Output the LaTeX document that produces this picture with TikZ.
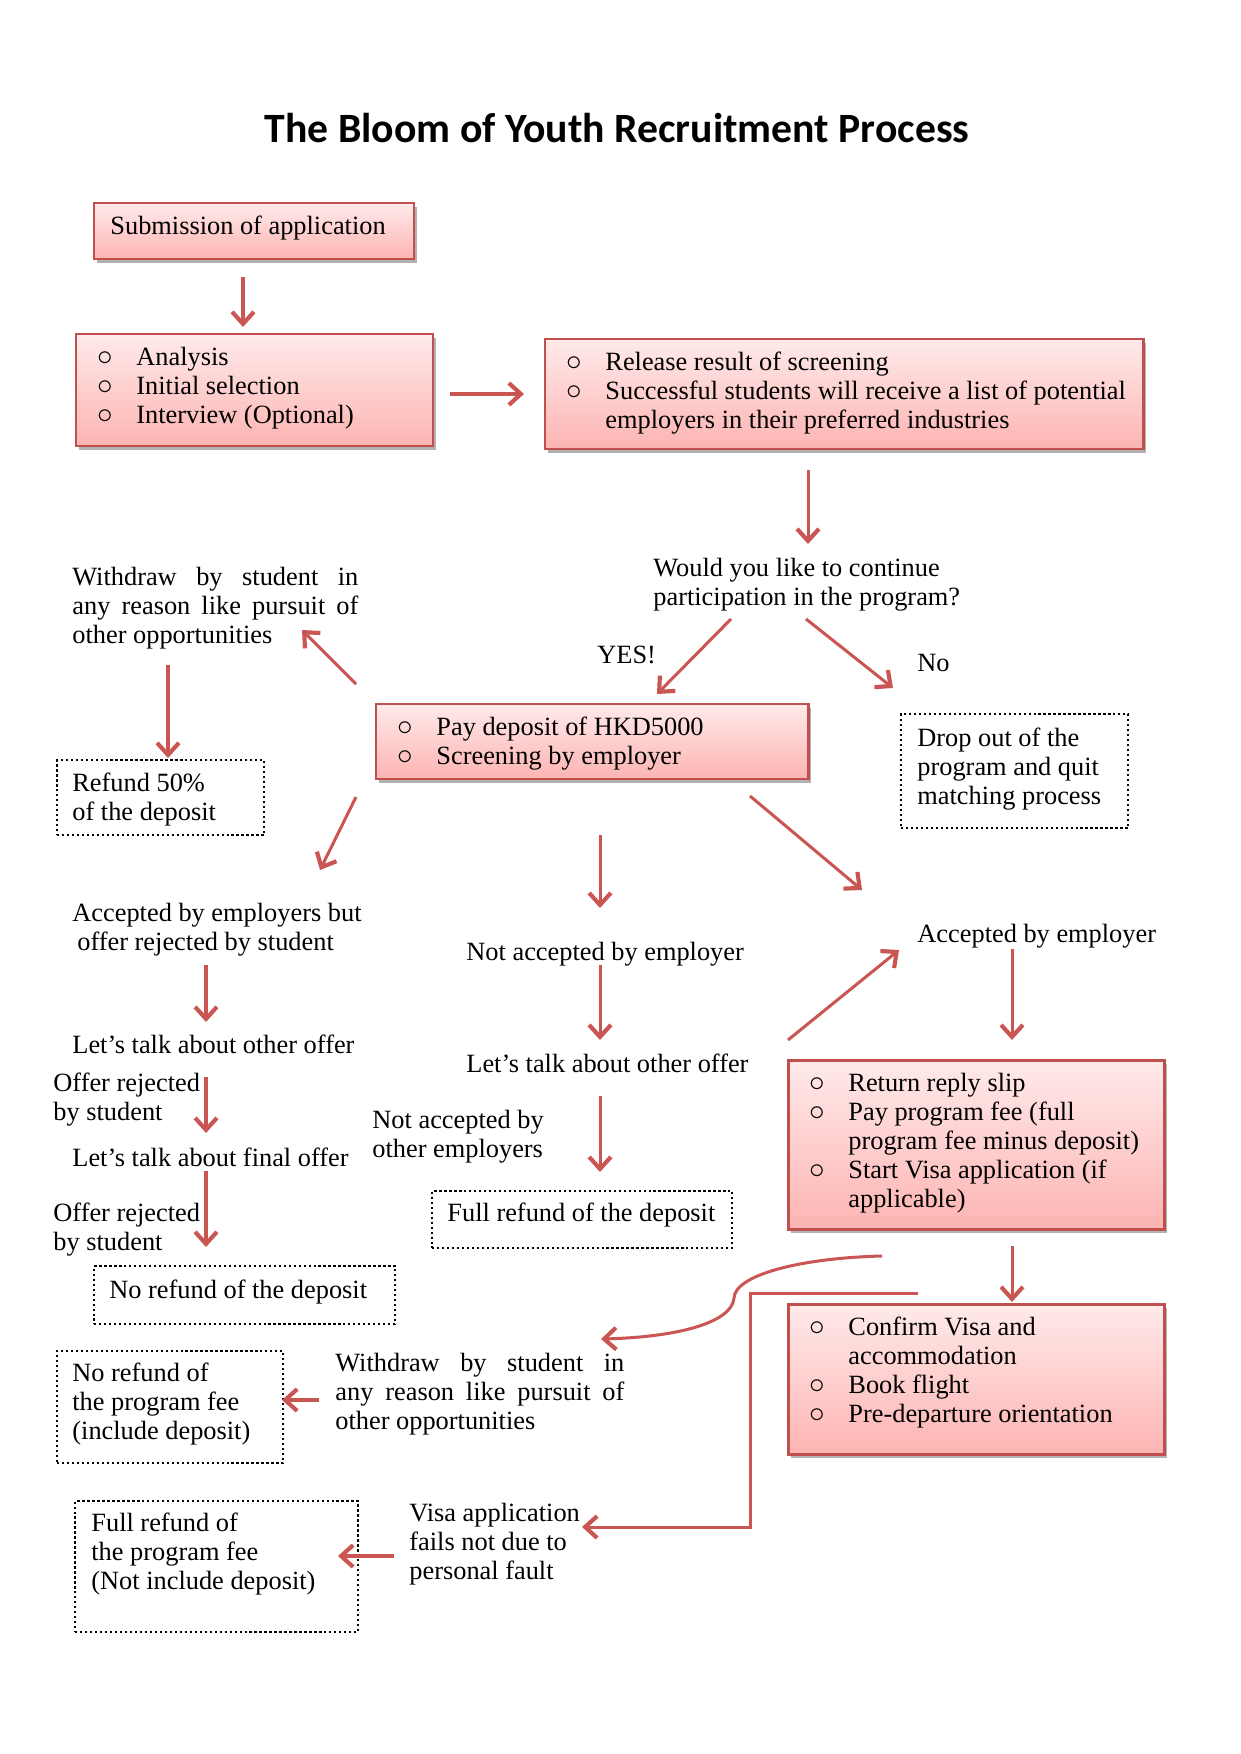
\documentclass[tikz,border=0pt]{standalone}
\usepackage{fontspec}
\usepackage{graphicx}
\setmainfont{Liberation Serif}
\newfontfamily\titlefont{Carlito}
\usetikzlibrary{arrows.meta,shadows}
\newlength\px \setlength\px{0.4818pt}
\definecolor{bord}{RGB}{192,80,77}
\definecolor{arcol}{RGB}{202,86,84}
\definecolor{ptop}{RGB}{255,234,234}
\definecolor{pbot}{RGB}{252,180,178}
\newcommand{\mainsz}{\fontsize{12.7pt}{14pt}\selectfont}
\newcommand{\tl}[1]{\begin{tabular}[t]{@{}l@{}}#1\end{tabular}}
\newcommand{\bl}[1]{\begin{tabular}[t]{@{}l@{}l@{}}#1\end{tabular}}
\newcommand{\bu}{\makebox[38\px][l]{\hspace{-1\px}\scalebox{1.25}{$\circ$}}}
\begin{document}
\mainsz
\begin{tikzpicture}[x=1\px,y=-1\px,
  pinkbox/.style={draw=bord, line width=1.2pt, top color=ptop, bottom color=pbot,
    anchor=north west, inner sep=0pt,
    drop shadow={shadow xshift=1.2pt, shadow yshift=-1.6pt, opacity=0.3, fill=black}},
  dotbox/.style={draw=black, line width=1.1pt, dash pattern=on 1.1pt off 1.3pt,
    anchor=north west, inner sep=0pt},
  txt/.style={anchor=base west, inner sep=0pt},
  arr/.style={draw=arcol, line width=1.45pt, line join=miter,
    -{Straight Barb[length=5.8pt,width=10.5pt,line width=2pt]}},
  thickarr/.style={arr, line width=1.75pt}]
\useasboundingbox (0,0) rectangle (1240,1754);
\fill[white] (0,0) rectangle (1240,1754);

% title
\node[anchor=base, inner sep=0pt, font=\titlefont\bfseries\fontsize{20.1pt}{24pt}\selectfont]
  (title) at (617,143) {The Bloom of Youth Recruitment Process};

% boxes
\node[pinkbox, minimum width=320\px, minimum height=56\px] (sub) at (93,202) {};
\node[pinkbox, minimum width=357\px, minimum height=112\px] (ana) at (75,333) {};
\node[pinkbox, minimum width=598\px, minimum height=110\px] (rel) at (544,338) {};
\node[pinkbox, minimum width=432\px, minimum height=75\px] (pay) at (375,703) {};
\node[pinkbox, minimum width=376\px, minimum height=169\px] (ret) at (787,1059) {};
\node[pinkbox, minimum width=376\px, minimum height=150\px] (conf) at (787,1303) {};
\node[dotbox, minimum width=227\px, minimum height=114\px] (drop) at (900,713) {};
\node[dotbox, minimum width=207\px, minimum height=75\px] (refund) at (56,759) {};
\node[dotbox, minimum width=301\px, minimum height=58\px] (norefdep) at (93,1265) {};
\node[dotbox, minimum width=300\px, minimum height=57\px] (fullrefdep) at (431,1190) {};
\node[dotbox, minimum width=226\px, minimum height=112\px] (noreffee) at (56,1350) {};
\node[dotbox, minimum width=283\px, minimum height=131\px] (fullfee) at (74,1500) {};

% texts in boxes
\node[txt] (subT) at (110,235) {Submission of application};
\node[txt] (anaT) at (98,365) {\bl{\bu&Analysis\\ \bu&Initial selection\\ \bu&Interview (Optional)}};
\node[txt] (relT) at (567,370) {\bl{\bu&Release result of screening\\ \bu&Successful students will receive a list of potential\\ &employers in their preferred industries}};
\node[txt] (payT) at (398,735) {\bl{\bu&Pay deposit of HKD5000\\ \bu&Screening by employer}};
\node[txt] (retT) at (810,1091) {\bl{\bu&Return reply slip\\ \bu&Pay program fee (full\\ &program fee minus deposit)\\ \bu&Start Visa application (if\\ &applicable)}};
\node[txt] (confT) at (810,1335) {\bl{\bu&Confirm Visa and\\ &accommodation\\ \bu&Book flight\\ \bu&Pre-departure orientation}};
\node[txt] (dropT) at (917,746) {\tl{Drop out of the\\ program and quit\\ matching process}};
\node[txt] (refundT) at (72,791) {\tl{Refund 50\%\\ of the deposit}};
\node[txt] (norefdepT) at (109,1298) {No refund of the deposit};
\node[txt] (fullrefdepT) at (447,1221) {Full refund of the deposit};
\node[txt] (noreffeeT) at (72,1381) {\tl{No refund of\\ the program fee\\ (include deposit)}};
\node[txt] (fullfeeT) at (91,1531) {\tl{Full refund of\\ the program fee\\ (Not include deposit)}};

% free texts
\node[txt] (quest) at (653,576) {\tl{Would you like to continue\\ participation in the program?}};
\node[txt] (yes) at (597,663) {YES!};
\node[txt] (no) at (917,671) {No};
\node[txt] (wd1) at (72,585) {\tl{\makebox[286\px][s]{Withdraw by student in}\\ \makebox[286\px][s]{any reason like pursuit of}\\ other opportunities}};
\node[txt] (accL) at (72,921) {\tl{Accepted by employers but\\ \hspace{5\px}offer rejected by student}};
\node[txt] (notacc) at (466,960) {Not accepted by employer};
\node[txt] (acc) at (917,942) {Accepted by employer};
\node[txt] (talkL) at (72,1053) {Let’s talk about other offer};
\node[txt] (rej1) at (53,1091) {\tl{Offer rejected\\ by student}};
\node[txt] (final) at (72,1166) {Let’s talk about final offer};
\node[txt] (rej2) at (53,1221) {\tl{Offer rejected\\ by student}};
\node[txt] (talkM) at (466,1072) {Let’s talk about other offer};
\node[txt] (notother) at (372,1128) {\tl{Not accepted by\\ other employers}};
\node[txt] (wd2) at (335,1371) {\tl{\makebox[289\px][s]{Withdraw by student in}\\ \makebox[289\px][s]{any reason like pursuit of}\\ other opportunities}};
\node[txt] (visa) at (409,1521) {\tl{Visa application\\ fails not due to\\ personal fault}};

% connector end points
\coordinate (a1s) at (243,277);  \coordinate (a1e) at (243,327);
\coordinate (a2s) at (450,394);  \coordinate (a2e) at (524,394);
\coordinate (a3s) at (808,470);  \coordinate (a3e) at (808,544);
\coordinate (ays) at (731,619);  \coordinate (aye) at (657,694);
\coordinate (ans) at (806,619);  \coordinate (ane) at (893,688);
\coordinate (aws) at (356,684);  \coordinate (awe) at (302,630);
\coordinate (ars) at (168,665);  \coordinate (are) at (168,758);
\coordinate (als) at (356,797);  \coordinate (ale) at (320,870);
\coordinate (ams) at (600,835);  \coordinate (ame) at (600,908);
\coordinate (aqs) at (750,796);  \coordinate (aqe) at (862,890);
\coordinate (l1s) at (206,965);  \coordinate (l1e) at (206,1022);
\coordinate (l2s) at (206,1077); \coordinate (l2e) at (206,1133);
\coordinate (l3s) at (206,1171); \coordinate (l3e) at (206,1247);
\coordinate (m2s) at (600,965);  \coordinate (m2e) at (600,1040);
\coordinate (m3s) at (600,1096); \coordinate (m3e) at (600,1172);
\coordinate (rus) at (788,1040); \coordinate (rue) at (899,950);
\coordinate (rds) at (1012,949); \coordinate (rde) at (1012,1040);
\coordinate (r2s) at (1012,1246);\coordinate (r2e) at (1012,1302);
\coordinate (cvs) at (882,1256); \coordinate (cvm) at (734,1298); \coordinate (cve) at (601,1339);
\coordinate (e1) at (918,1293); \coordinate (e2) at (750,1293);
\coordinate (e3) at (750,1527); \coordinate (e4) at (582,1527);
\coordinate (nfs) at (319,1400); \coordinate (nfe) at (282,1400);
\coordinate (ffs) at (394,1556); \coordinate (ffe) at (338,1556);

% connectors
\draw[arr] (a1s) -- (a1e);
\draw[thickarr] (a2s) -- (a2e);
\draw[arr] (a3s) -- (a3e);
\draw[arr] (ays) -- (aye);
\draw[arr] (ans) -- (ane);
\draw[arr] (aws) -- (awe);
\draw[arr] (ars) -- (are);
\draw[arr] (als) -- (ale);
\draw[arr] (ams) -- (ame);
\draw[arr] (aqs) -- (aqe);
\draw[arr] (l1s) -- (l1e);
\draw[arr] (l2s) -- (l2e);
\draw[arr] (l3s) -- (l3e);
\draw[arr] (m2s) -- (m2e);
\draw[arr] (m3s) -- (m3e);
\draw[arr] (rus) -- (rue);
\draw[arr] (rds) -- (rde);
\draw[arr] (r2s) -- (r2e);
\draw[arr] (cvs) .. controls (800,1258) and (735,1275) .. (cvm)
               .. controls (732,1322) and (680,1337) .. (cve);
\draw[arr] (e1) -- (e2) -- (e3) -- (e4);
\draw[thickarr] (nfs) -- (nfe);
\draw[thickarr] (ffs) -- (ffe);
\end{tikzpicture}
\end{document}
